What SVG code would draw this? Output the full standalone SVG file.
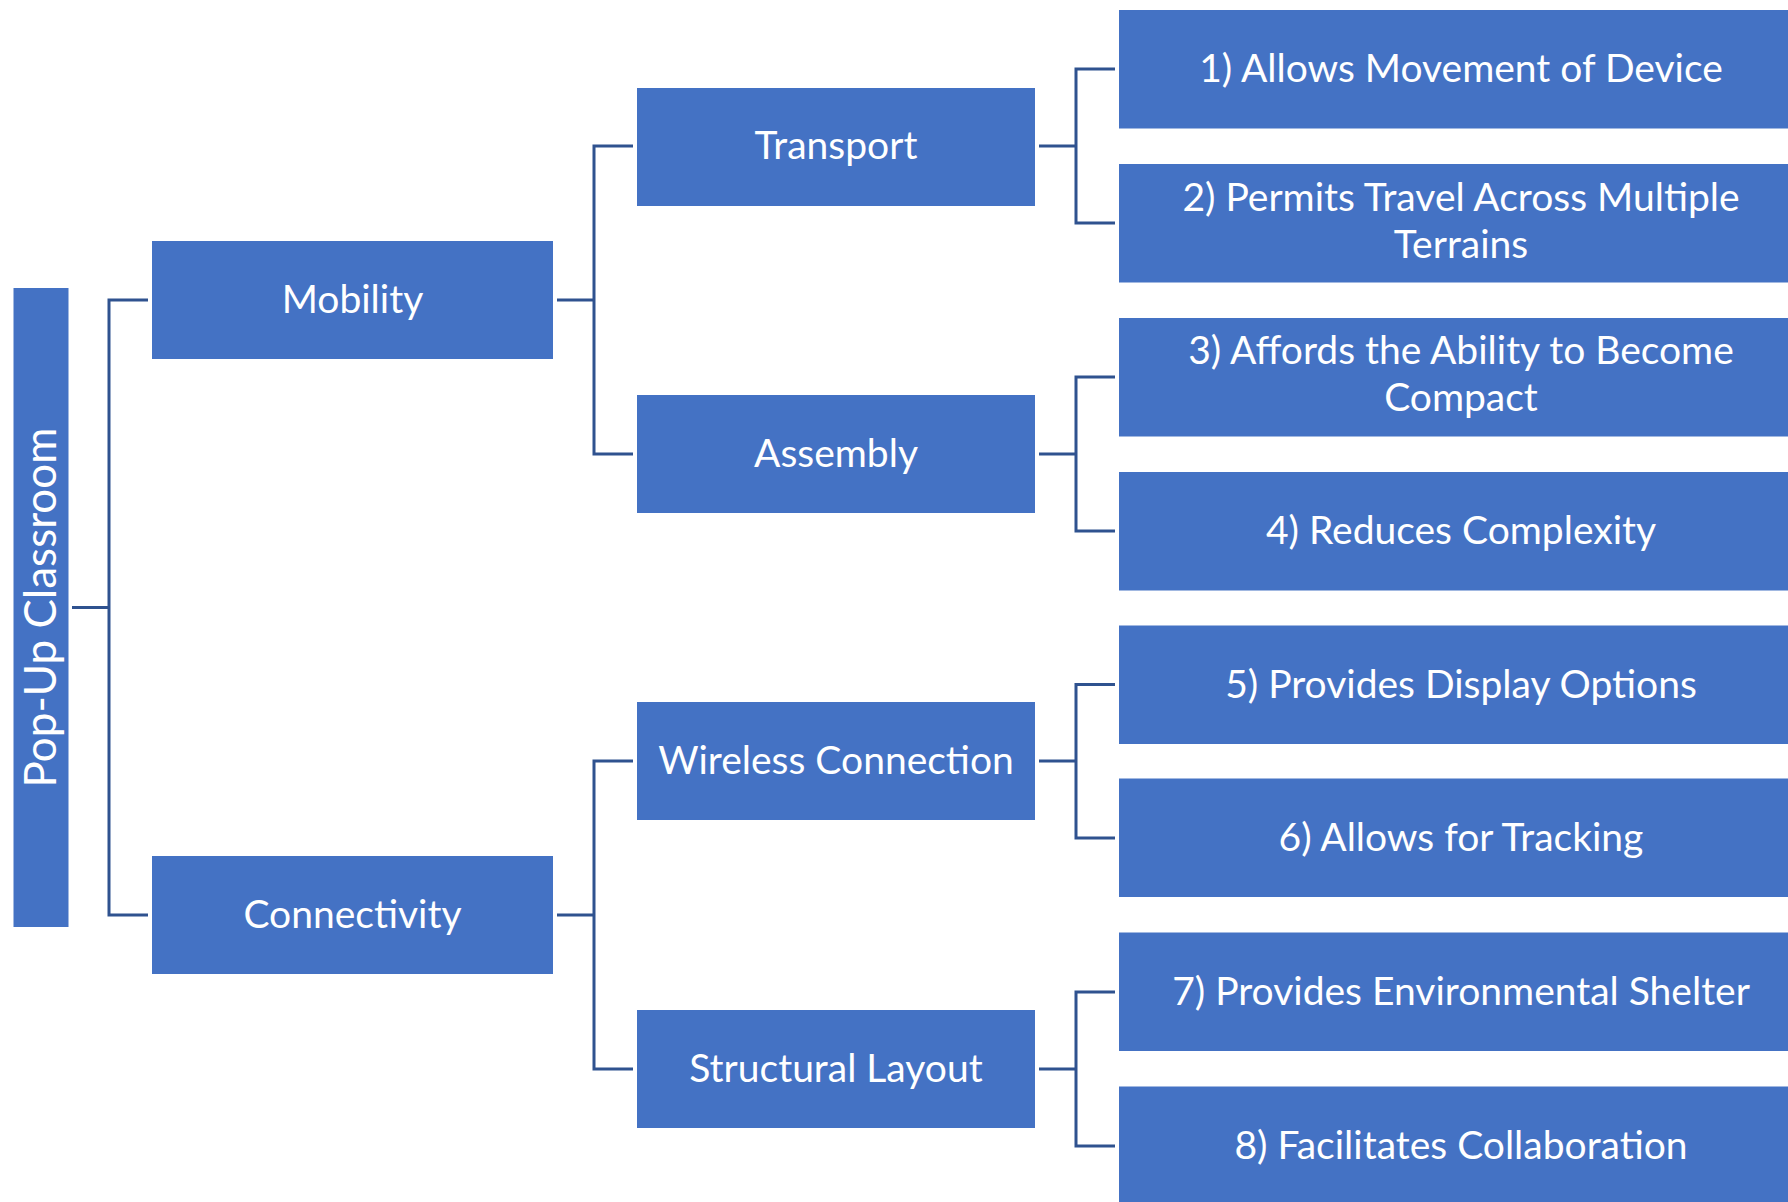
<svg xmlns="http://www.w3.org/2000/svg" width="1788" height="1202" viewBox="0 0 1788 1202">
<style>
.box{fill:#4472C4;}
.t{fill:#FFFFFF;font-family:Lato,"Open Sans","Liberation Sans",sans-serif;font-size:39px;text-anchor:middle;}
.r{font-size:44px;}
.c{fill:none;stroke:#2F528F;stroke-width:3;}
</style>
<rect width="1788" height="1202" fill="#FFFFFF"/>
<g id="connectors">
<path class="c" d="M72,607.5 H109 M148,300 H109 V915 H148"/>
<path class="c" d="M557,300 H594 M633,146 H594 V454 H633"/>
<path class="c" d="M557,915 H594 M633,761 H594 V1069 H633"/>
<path class="c" d="M1039,146 H1076 M1115,69 H1076 V223 H1115"/>
<path class="c" d="M1039,454 H1076 M1115,377 H1076 V531 H1115"/>
<path class="c" d="M1039,761 H1076 M1115,684.5 H1076 V838 H1115"/>
<path class="c" d="M1039,1069 H1076 M1115,992 H1076 V1146 H1115"/>
</g>
<g id="root">
<rect class="box" x="13.5" y="288" width="55" height="639"/>
<text class="t r" transform="translate(56,607.5) rotate(-90)" x="0" y="0">Pop-Up Classroom</text>
</g>
<g id="mobility">
<rect class="box" x="152" y="241" width="401" height="118"/>
<text class="t" x="352.5" y="313">Mobility</text>
</g>
<g id="connectivity">
<rect class="box" x="152" y="856" width="401" height="118"/>
<text class="t" x="352.5" y="928">Connectivity</text>
</g>
<g id="transport">
<rect class="box" x="637" y="88" width="398" height="118"/>
<text class="t" x="836" y="159">Transport</text>
</g>
<g id="assembly">
<rect class="box" x="637" y="395" width="398" height="118"/>
<text class="t" x="836" y="467">Assembly</text>
</g>
<g id="wireless">
<rect class="box" x="637" y="702" width="398" height="118"/>
<text class="t" x="836" y="774">Wireless Connection</text>
</g>
<g id="structural">
<rect class="box" x="637" y="1010" width="398" height="118"/>
<text class="t" x="836" y="1082">Structural Layout</text>
</g>
<g id="leaf1">
<rect class="box" x="1119" y="10" width="669" height="118.5"/>
<text class="t" x="1461" y="82">1) Allows Movement of Device</text>
</g>
<g id="leaf2">
<rect class="box" x="1119" y="164" width="669" height="118.5"/>
<text class="t" x="1461" y="211">2) Permits Travel Across Multiple</text>
<text class="t" x="1461" y="258">Terrains</text>
</g>
<g id="leaf3">
<rect class="box" x="1119" y="318" width="669" height="118.5"/>
<text class="t" x="1461" y="364">3) Affords the Ability to Become</text>
<text class="t" x="1461" y="411">Compact</text>
</g>
<g id="leaf4">
<rect class="box" x="1119" y="472" width="669" height="118.5"/>
<text class="t" x="1461" y="544">4) Reduces Complexity</text>
</g>
<g id="leaf5">
<rect class="box" x="1119" y="625.5" width="669" height="118.5"/>
<text class="t" x="1461" y="697.5">5) Provides Display Options</text>
</g>
<g id="leaf6">
<rect class="box" x="1119" y="778.5" width="669" height="118.5"/>
<text class="t" x="1461" y="851">6) Allows for Tracking</text>
</g>
<g id="leaf7">
<rect class="box" x="1119" y="932.5" width="669" height="118.5"/>
<text class="t" x="1461" y="1005">7) Provides Environmental Shelter</text>
</g>
<g id="leaf8">
<rect class="box" x="1119" y="1086.5" width="669" height="115.5"/>
<text class="t" x="1461" y="1159">8) Facilitates Collaboration</text>
</g>
</svg>
